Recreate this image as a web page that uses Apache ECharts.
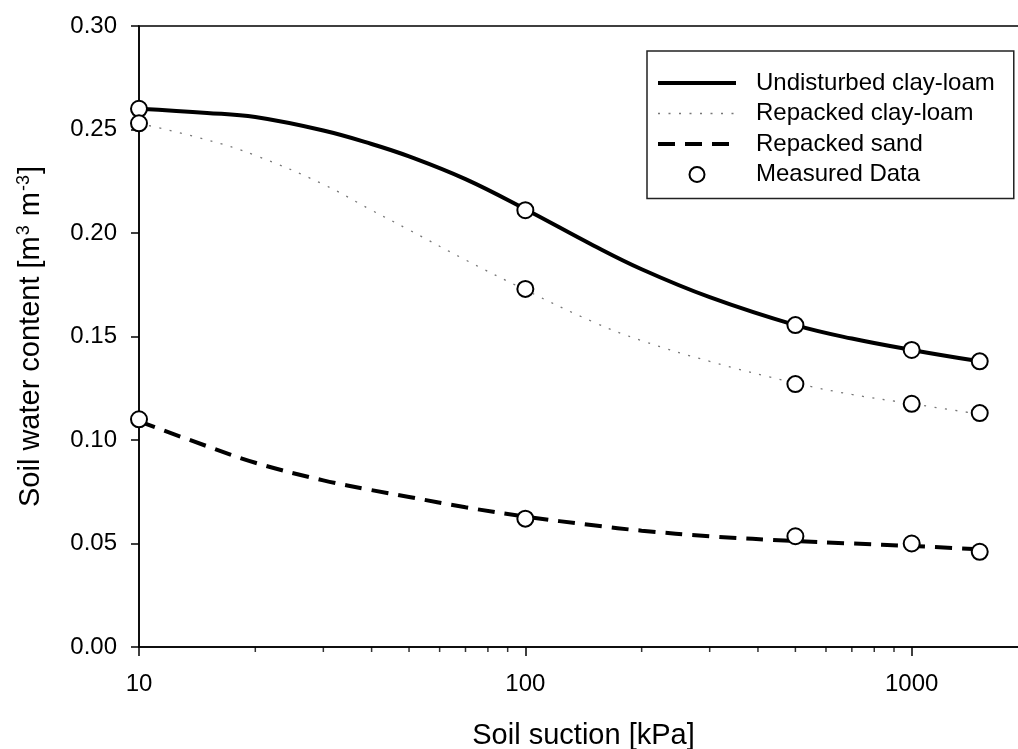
<!DOCTYPE html>
<html>
<head>
<meta charset="utf-8">
<title>Soil water retention</title>
<script src="https://cdn.jsdelivr.net/npm/echarts@6/dist/echarts.min.js"></script>
<style>
    html, body { margin: 0; padding: 0; background: #fff; }
    #chart { width: 1018px; height: 749px; }
</style>
</head>
<body>
<div id="chart"></div>
<script>
// 拟合曲线的吸力值 (kPa)
var curveSuction = [10, 15, 20, 30, 40, 50, 70, 100, 150, 200, 300, 500, 700, 1000, 1500];
var undisturbedCurve = [0.260, 0.258, 0.256, 0.2495, 0.243, 0.237, 0.226, 0.2115, 0.194, 0.1825, 0.169, 0.1555, 0.149, 0.1435, 0.138];
var repackedClayCurve = [0.253, 0.245, 0.2375, 0.2235, 0.211, 0.2015, 0.187, 0.1725, 0.157, 0.148, 0.138, 0.1275, 0.122, 0.1175, 0.1125];
var repackedSandCurve = [0.109, 0.097, 0.089, 0.0805, 0.0758, 0.0725, 0.0675, 0.063, 0.0588, 0.0562, 0.0535, 0.0512, 0.050, 0.0488, 0.0472];

// 实测点
var measuredSuction = [10, 100, 500, 1000, 1500];
var undisturbedMeasured = [0.260, 0.211, 0.1555, 0.1435, 0.138];
var repackedClayMeasured = [0.253, 0.173, 0.127, 0.1175, 0.113];
var repackedSandMeasured = [0.110, 0.062, 0.0535, 0.050, 0.046];

// 刻度
var xMajorTicks = [10, 100, 1000];
var xMinorTicks = [20, 30, 40, 50, 60, 70, 80, 90, 200, 300, 400, 500, 600, 700, 800, 900, 2000];
var legendNames = ['Undisturbed clay-loam', 'Repacked clay-loam', 'Repacked sand', 'Measured Data'];

var FONT = "'Liberation Sans', Arial, sans-serif";

var solidStyle = { color: '#000', width: 4, type: 'solid' };
var dottedStyle = { color: '#777', width: 1.3, type: [2, 8.5] };
var dashedStyle = { color: '#000', width: 4, type: [17, 10] };

function pairs(xs, ys) {
    var out = [];
    for (var i = 0; i < xs.length; i++) {
        out.push([xs[i], ys[i]]);
    }
    return out;
}

function lineSeries(name, ys, style) {
    return {
        name: name,
        type: 'line',
        data: pairs(curveSuction, ys),
        smooth: 0.4,
        symbol: 'none',
        showSymbol: false,
        lineStyle: style,
        itemStyle: { color: style.color },
        z: 2
    };
}

// 图例里线条不带点
function legendLine(name, style) {
    return {
        name: name,
        itemStyle: { opacity: 0, borderWidth: 0 },
        lineStyle: { color: style.color, width: style.width, type: style.type, opacity: 1 }
    };
}

var measured = pairs(measuredSuction, undisturbedMeasured)
    .concat(pairs(measuredSuction, repackedClayMeasured))
    .concat(pairs(measuredSuction, repackedSandMeasured));

var minorData = [];
for (var i = 0; i < xMinorTicks.length; i++) {
    minorData.push([xMinorTicks[i], 0]);
}

var myChart = echarts.init(document.getElementById('chart'));

var option = {
    animation: false,
    backgroundColor: '#fff',
    textStyle: { fontFamily: FONT, color: '#000' },
    grid: {
        left: 139, top: 26, right: -10, bottom: 102,
        show: true, borderColor: '#000', borderWidth: 1.5,
        containLabel: false, outerBoundsMode: 'none'
    },
    legend: {
        data: [
            legendLine(legendNames[0], solidStyle),
            legendLine(legendNames[1], dottedStyle),
            legendLine(legendNames[2], dashedStyle),
            { name: legendNames[3] }
        ],
        orient: 'vertical',
        left: 647, top: 51,
        padding: [20, 19, 12, 9],
        itemWidth: 78, itemHeight: 15, itemGap: 6.5,
        borderColor: '#222', borderWidth: 1.5,
        textStyle: { fontFamily: FONT, fontSize: 24, color: '#000', padding: [0, 0, 0, 15] }
    },
    xAxis: {
        type: 'log',
        logBase: 10,
        min: 10,
        max: 2000,
        name: 'Soil suction [kPa]',
        nameLocation: 'middle',
        nameGap: 74,
        nameTextStyle: { fontFamily: FONT, fontSize: 29, color: '#000' },
        axisLine: { lineStyle: { color: '#000', width: 1.5 } },
        axisTick: { inside: false, length: 9, lineStyle: { color: '#000', width: 1.5 } },
        axisLabel: {
            fontFamily: FONT, fontSize: 24, color: '#000', margin: 25,
            showMaxLabel: false,
            formatter: function (v) {
                return xMajorTicks.indexOf(Math.round(v)) >= 0 ? String(Math.round(v)) : '';
            }
        },
        splitLine: { show: false }
    },
    yAxis: {
        type: 'value',
        min: 0,
        max: 0.3,
        interval: 0.05,
        name: '{a|Soil water content [m}{s|3}{a| m}{s|-3}{a|]}',
        nameLocation: 'middle',
        nameGap: 92,
        nameRotate: 90,
        nameTextStyle: {
            fontFamily: FONT, fontSize: 29, color: '#000',
            rich: {
                a: { fontFamily: FONT, fontSize: 29, color: '#000' },
                s: { fontFamily: FONT, fontSize: 18, color: '#000', verticalAlign: 'top', padding: [0, 1, 14, 1] }
            }
        },
        axisLine: { lineStyle: { color: '#000', width: 1.5 } },
        axisTick: { inside: false, length: 8, lineStyle: { color: '#000', width: 1.5 } },
        axisLabel: {
            fontFamily: FONT, fontSize: 24, color: '#000', margin: 22,
            formatter: function (v) { return v.toFixed(2); }
        },
        splitLine: { show: false }
    },
    series: [
        lineSeries(legendNames[0], undisturbedCurve, solidStyle),
        lineSeries(legendNames[1], repackedClayCurve, dottedStyle),
        lineSeries(legendNames[2], repackedSandCurve, dashedStyle),
        {
            name: legendNames[3],
            type: 'scatter',
            data: measured,
            symbol: 'circle',
            symbolSize: 16,
            itemStyle: { color: '#fff', borderColor: '#000', borderWidth: 2, opacity: 1 },
            z: 5
        },
        {
            // 对数轴的次刻度
            name: 'minorTicks',
            type: 'scatter',
            data: minorData,
            symbol: 'rect',
            symbolSize: [1.5, 5],
            symbolOffset: [0, 2.5],
            clip: false,
            silent: true,
            itemStyle: { color: '#000' },
            z: 1
        }
    ]
};
myChart.setOption(option);
</script>
</body>
</html>
